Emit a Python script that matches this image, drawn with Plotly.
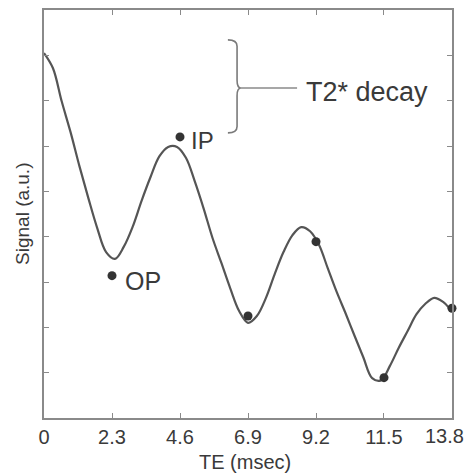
import plotly.graph_objects as go

# Fitted curve (TE in msec, signal in a.u.)
curve_te = [0.0, 0.3, 0.6, 0.9, 1.2, 1.5, 1.8, 2.1, 2.4, 2.7, 3.0, 3.3, 3.6, 3.9,
            4.2, 4.5, 4.8, 5.1, 5.4, 5.7, 6.0, 6.3, 6.6, 6.9, 7.2, 7.5, 7.8, 8.1,
            8.4, 8.7, 9.0, 9.3, 9.6, 9.9, 10.2, 10.5, 10.8, 11.1, 11.4, 11.7, 12.0,
            12.3, 12.6, 12.9, 13.2, 13.5, 13.7]
curve_sig = [8.05, 7.72, 6.98, 6.30, 5.55, 4.85, 4.19, 3.66, 3.51, 3.78, 4.22, 4.79, 5.31, 5.77,
             5.98, 5.98, 5.74, 5.22, 4.62, 3.97, 3.42, 2.86, 2.36, 2.10, 2.25, 2.64, 3.17, 3.66,
             4.03, 4.21, 4.12, 3.82, 3.30, 2.78, 2.31, 1.82, 1.34, 0.88, 0.83, 1.15, 1.55,
             1.92, 2.29, 2.52, 2.65, 2.56, 2.43]

# Measured echoes
echo_te = [2.3, 4.6, 6.9, 9.2, 11.5, 13.8]
echo_sig = [3.14, 6.2, 2.25, 3.89, 0.89, 2.42]

x_ticks = [0, 2.3, 4.6, 6.9, 9.2, 11.5, 13.8]
x_tick_labels = ["0", "2.3", "4.6", "6.9", "9.2", "11.5", "13.8"]
y_ticks = [0, 1, 2, 3, 4, 5, 6, 7, 8, 9]

font_family = "Liberation Sans, Arial, sans-serif"
axis_color = "#8a8a8a"
text_color = "#3a3a3a"

fig = go.Figure()
fig.add_trace(go.Scatter(x=curve_te, y=curve_sig, mode="lines",
                         line=dict(color="#555555", width=2.2, shape="spline", smoothing=1.0),
                         hoverinfo="skip", showlegend=False))
fig.add_trace(go.Scatter(x=echo_te, y=echo_sig, mode="markers",
                         marker=dict(color="#333333", size=9),
                         showlegend=False, cliponaxis=False))

# Brace and connector for T2* decay
brace = ("M 6.22 8.34 Q 6.53 8.34 6.53 8.2 L 6.53 7.45 Q 6.53 7.28 6.66 7.28 "
         "Q 6.53 7.28 6.53 7.11 L 6.53 6.43 Q 6.53 6.29 6.22 6.29")
fig.add_shape(type="path", path=brace, xref="x", yref="y",
              line=dict(color="#7a7a7a", width=1.6))
fig.add_shape(type="line", x0=6.66, y0=7.28, x1=8.56, y1=7.28, xref="x", yref="y",
              line=dict(color="#8a8a8a", width=1.6))

fig.add_annotation(x=2.67, y=3.03, text="OP", showarrow=False, xanchor="left",
                   font=dict(size=25, color=text_color, family=font_family))
fig.add_annotation(x=4.90, y=6.13, text="IP", showarrow=False, xanchor="left",
                   font=dict(size=24, color=text_color, family=font_family))
fig.add_annotation(x=8.79, y=7.2, text="T2* decay", showarrow=False, xanchor="left",
                   font=dict(size=27, color=text_color, family=font_family))

# Last tick label, pulled inside the window edge as in the reference
fig.add_annotation(x=1.034, y=-0.045, xref="paper", yref="paper", text=x_tick_labels[-1],
                   showarrow=False, xanchor="right", yanchor="middle",
                   font=dict(size=20, color=text_color, family=font_family))

# Axis titles
fig.add_annotation(x=0.493, y=-0.108, xref="paper", yref="paper", text="TE (msec)",
                   showarrow=False, xanchor="center", yanchor="middle",
                   font=dict(size=20, color=text_color, family=font_family))
fig.add_annotation(x=-0.054, y=0.5, xref="paper", yref="paper", text="Signal (a.u.)",
                   showarrow=False, textangle=-90, xanchor="center", yanchor="middle",
                   font=dict(size=19, color=text_color, family=font_family))

fig.update_layout(
    width=469, height=475,
    margin=dict(l=44, r=17, t=10, b=57),
    paper_bgcolor="white", plot_bgcolor="white",
    font=dict(family=font_family, color=text_color),
)
fig.update_xaxes(range=[-0.0005, 13.8005], tickvals=x_ticks,
                 ticktext=x_tick_labels[:-1] + [""],
                 ticks="inside", ticklen=5, tickcolor=axis_color, mirror="ticks",
                 showline=True, linecolor=axis_color, linewidth=2, showgrid=False,
                 zeroline=False, automargin=False,
                 tickfont=dict(size=20, color=text_color))
fig.update_yaxes(range=[0, 9], tickvals=y_ticks, showticklabels=False,
                 ticks="inside", ticklen=5, tickcolor=axis_color, mirror="ticks",
                 showline=True, linecolor=axis_color, linewidth=2, showgrid=False,
                 zeroline=False, automargin=False)

# Remove the page's default body margin so the figure fills the window exactly
fig.write_html("out.html", config={"displayModeBar": False},
               post_script="document.body.style.margin='0';document.body.style.overflow='hidden';")
